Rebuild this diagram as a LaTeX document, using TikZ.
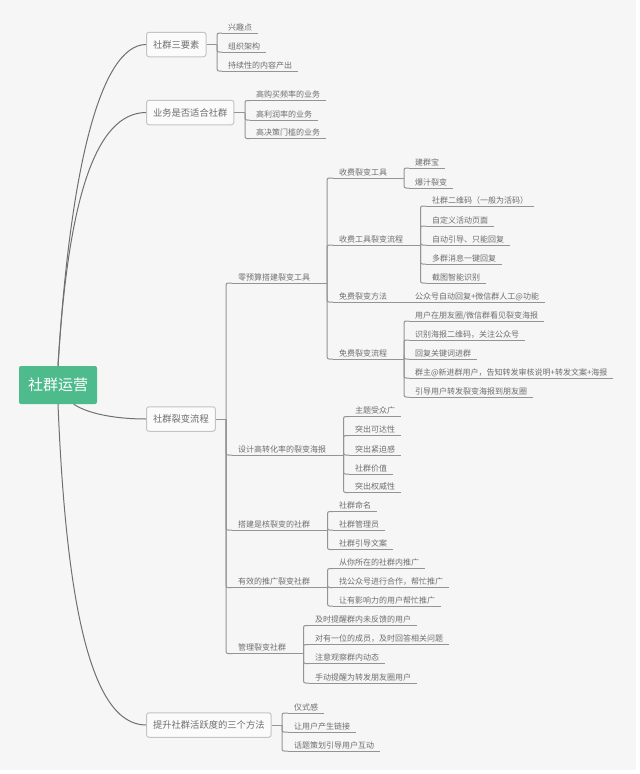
\documentclass[tikz,border=0pt]{standalone}
\usepackage{fontspec}
\setmainfont{Noto Sans CJK SC}
\usetikzlibrary{calc,positioning}

\definecolor{paper}{HTML}{F6F6F6}
\definecolor{leafgreen}{HTML}{4EBB8C}
\definecolor{inkgray}{HTML}{6E6E6E}
\definecolor{twiggray}{HTML}{949494}
\definecolor{limbgray}{HTML}{707070}
\definecolor{boxgray}{HTML}{C4C4C4}

\tikzset{
  rootbox/.style={fill=leafgreen, text=white, rounded corners=2, minimum width=78, minimum height=38, font=\fontsize{15}{18}\selectfont},
  branchbox/.style={anchor=west, draw=boxgray, fill=white!60!paper, line width=1, rounded corners=2.5, inner xsep=6.5, inner ysep=0, minimum height=24.5, text=inkgray, font=\fontsize{9.3}{11}\selectfont},
  twig/.style={draw=twiggray, line width=1, rounded corners=2},
  limb/.style={draw=limbgray, line width=1},
  leaf/.style={anchor=south west, inner xsep=6, inner ysep=2, outer sep=0, text height=7, text depth=1, text=inkgray, font=\fontsize{8}{10}\selectfont,
    append after command={(\tikzlastnode.south west) edge [twig] (\tikzlastnode.south east)}},
}

\begin{document}
\begin{tikzpicture}[x=1pt, y=-1pt]

  \useasboundingbox (0,0) rectangle (640,774);
  \fill [paper] (0,0) rectangle (635.5,770);

  \node (root) [rootbox] at (58,385) {社群运营};

  \node (elements) [branchbox] at (146,44.5) {社群三要素};
  \node (fit) [branchbox] at (146,112.5) {业务是否适合社群};
  \node (fission) [branchbox] at (146,419) {社群裂变流程};
  \node (active) [branchbox] at (146,725) {提升社群活跃度的三个方法};

  \path [limb] (root.north) .. controls (70,170) and (100,45) .. (elements.west);
  \path [limb] (root.north) .. controls (68,200) and (95,113) .. (fit.west);
  \path [limb] ($(root.south west)!0.7!(root.south east)$) .. controls (90,415) and (120,419) .. (fission.west);
  \path [limb] (root.south) .. controls (66,600) and (90,725) .. (active.west);

  % first branch
  \coordinate (elements-j) at (217,44.5);
  \node (interest) [leaf] at (222,33) {兴趣点};
  \node (structure) [leaf] at (222,52) {组织架构};
  \node (output) [leaf] at (222,71) {持续性的内容产出};
  \path [twig] (elements.east) -- (elements-j);
  \path [twig] (elements-j) |- (interest.south west);
  \path [twig] (elements-j) |- (structure.south west);
  \path [twig] (elements-j) |- (output.south west);

  % second branch
  \coordinate (fit-j) at (245,112.5);
  \node (frequency) [leaf] at (250,100.5) {高购买频率的业务};
  \node (profit) [leaf] at (250,120) {高利润率的业务};
  \node (threshold) [leaf] at (250,138.5) {高决策门槛的业务};
  \path [twig] (fit.east) -- (fit-j);
  \path [twig] (fit-j) |- (frequency.south west);
  \path [twig] (fit-j) |- (profit.south west);
  \path [twig] (fit-j) |- (threshold.south west);

  % third branch
  \coordinate (fission-j) at (226,419);
  \node (tools) [leaf] at (232,283) {零预算搭建裂变工具};
  \node (poster) [leaf] at (232,455) {设计高转化率的裂变海报};
  \node (group) [leaf] at (232,530) {搭建是核裂变的社群};
  \node (promote) [leaf] at (232,587.5) {有效的推广裂变社群};
  \node (manage) [leaf] at (232,653.5) {管理裂变社群};
  \path [twig] (fission.east) -- (fission-j);
  \path [twig] (fission-j) |- (tools.south west);
  \path [twig] (fission-j) |- (poster.south west);
  \path [twig] (fission-j) |- (group.south west);
  \path [twig] (fission-j) |- (promote.south west);
  \path [twig] (fission-j) |- (manage.south west);

  % tools
  \coordinate (tools-j) at (327,283);
  \node (paid) [leaf] at (333,178) {收费裂变工具};
  \node (paidflow) [leaf] at (333,245) {收费工具裂变流程};
  \node (free) [leaf] at (333,302) {免费裂变方法};
  \node (freeflow) [leaf] at (333,359) {免费裂变流程};
  \path [twig] (tools.south east) -- (tools-j);
  \path [twig] (tools-j) |- (paid.south west);
  \path [twig] (tools-j) |- (paidflow.south west);
  \path [twig] (tools-j) |- (free.south west);
  \path [twig] (tools-j) |- (freeflow.south west);

  \coordinate (paid-j) at (404,178);
  \node (baby) [leaf] at (409,168) {建群宝};
  \node (juice) [leaf] at (409,188) {爆汁裂变};
  \path [twig] (paid.south east) -- (paid-j);
  \path [twig] (paid-j) |- (baby.south west);
  \path [twig] (paid-j) |- (juice.south west);

  \coordinate (paidflow-j) at (420.5,245);
  \node (qrcode) [leaf] at (426,206) {社群二维码（一般为活码）};
  \node (page) [leaf] at (426,226) {自定义活动页面};
  \node (reply) [leaf] at (426,245) {自动引导、只能回复};
  \node (message) [leaf] at (426,264) {多群消息一键回复};
  \node (shot) [leaf] at (426,283) {截图智能识别};
  \path [twig] (paidflow.south east) -- (paidflow-j);
  \path [twig] (paidflow-j) |- (qrcode.south west);
  \path [twig] (paidflow-j) |- (page.south west);
  \path [twig] (paidflow-j) |- (reply.south west);
  \path [twig] (paidflow-j) |- (message.south west);
  \path [twig] (paidflow-j) |- (shot.south west);

  \node (account) [leaf] at (409,302) {公众号自动回复+微信群人工@功能};
  \path [twig] (free.south east) -- (account.south west);

  \coordinate (freeflow-j) at (404,359);
  \node (see) [leaf] at (409,321) {用户在朋友圈/微信群看见裂变海报};
  \node (scan) [leaf] at (409,340) {识别海报二维码，关注公众号};
  \node (keyword) [leaf] at (409,359) {回复关键词进群};
  \node (notify) [leaf] at (409,378) {群主@新进群用户，告知转发审核说明+转发文案+海报};
  \node (guide) [leaf] at (409,397) {引导用户转发裂变海报到朋友圈};
  \path [twig] (freeflow.south east) -- (freeflow-j);
  \path [twig] (freeflow-j) |- (see.south west);
  \path [twig] (freeflow-j) |- (scan.south west);
  \path [twig] (freeflow-j) |- (keyword.south west);
  \path [twig] (freeflow-j) |- (notify.south west);
  \path [twig] (freeflow-j) |- (guide.south west);

  % poster
  \coordinate (poster-j) at (343.5,455);
  \node (audience) [leaf] at (349,416.5) {主题受众广};
  \node (reach) [leaf] at (349,435.5) {突出可达性};
  \node (urgent) [leaf] at (349,455) {突出紧迫感};
  \node (value) [leaf] at (349,474) {社群价值};
  \node (authority) [leaf] at (349,492.5) {突出权威性};
  \path [twig] (poster.south east) -- (poster-j);
  \path [twig] (poster-j) |- (audience.south west);
  \path [twig] (poster-j) |- (reach.south west);
  \path [twig] (poster-j) |- (urgent.south west);
  \path [twig] (poster-j) |- (value.south west);
  \path [twig] (poster-j) |- (authority.south west);

  % group
  \coordinate (group-j) at (327.5,530);
  \node (naming) [leaf] at (333,511.5) {社群命名};
  \node (admin) [leaf] at (333,530) {社群管理员};
  \node (copy) [leaf] at (333,549.5) {社群引导文案};
  \path [twig] (group.south east) -- (group-j);
  \path [twig] (group-j) |- (naming.south west);
  \path [twig] (group-j) |- (admin.south west);
  \path [twig] (group-j) |- (copy.south west);

  % promote
  \coordinate (promote-j) at (327.5,587.5);
  \node (inside) [leaf] at (333,568.5) {从你所在的社群内推广};
  \node (partner) [leaf] at (333,587.5) {找公众号进行合作，帮忙推广};
  \node (influence) [leaf] at (333,606) {让有影响力的用户帮忙推广};
  \path [twig] (promote.south east) -- (promote-j);
  \path [twig] (promote-j) |- (inside.south west);
  \path [twig] (promote-j) |- (partner.south west);
  \path [twig] (promote-j) |- (influence.south west);

  % manage
  \coordinate (manage-j) at (303.5,653.5);
  \node (remind) [leaf] at (309,625.5) {及时提醒群内未反馈的用户};
  \node (answer) [leaf] at (309,644.5) {对有一位的成员，及时回答相关问题};
  \node (watch) [leaf] at (309,663.5) {注意观察群内动态};
  \node (moments) [leaf] at (309,683) {手动提醒为转发朋友圈用户};
  \path [twig] (manage.south east) -- (manage-j);
  \path [twig] (manage-j) |- (remind.south west);
  \path [twig] (manage-j) |- (answer.south west);
  \path [twig] (manage-j) |- (watch.south west);
  \path [twig] (manage-j) |- (moments.south west);

  % fourth branch
  \coordinate (active-j) at (282,725);
  \node (ritual) [leaf] at (288,713) {仪式感};
  \node (link) [leaf] at (288,732) {让用户产生链接};
  \node (topic) [leaf] at (288,751) {话题策划引导用户互动};
  \path [twig] (active.east) -- (active-j);
  \path [twig] (active-j) |- (ritual.south west);
  \path [twig] (active-j) |- (link.south west);
  \path [twig] (active-j) |- (topic.south west);

\end{tikzpicture}
\end{document}
